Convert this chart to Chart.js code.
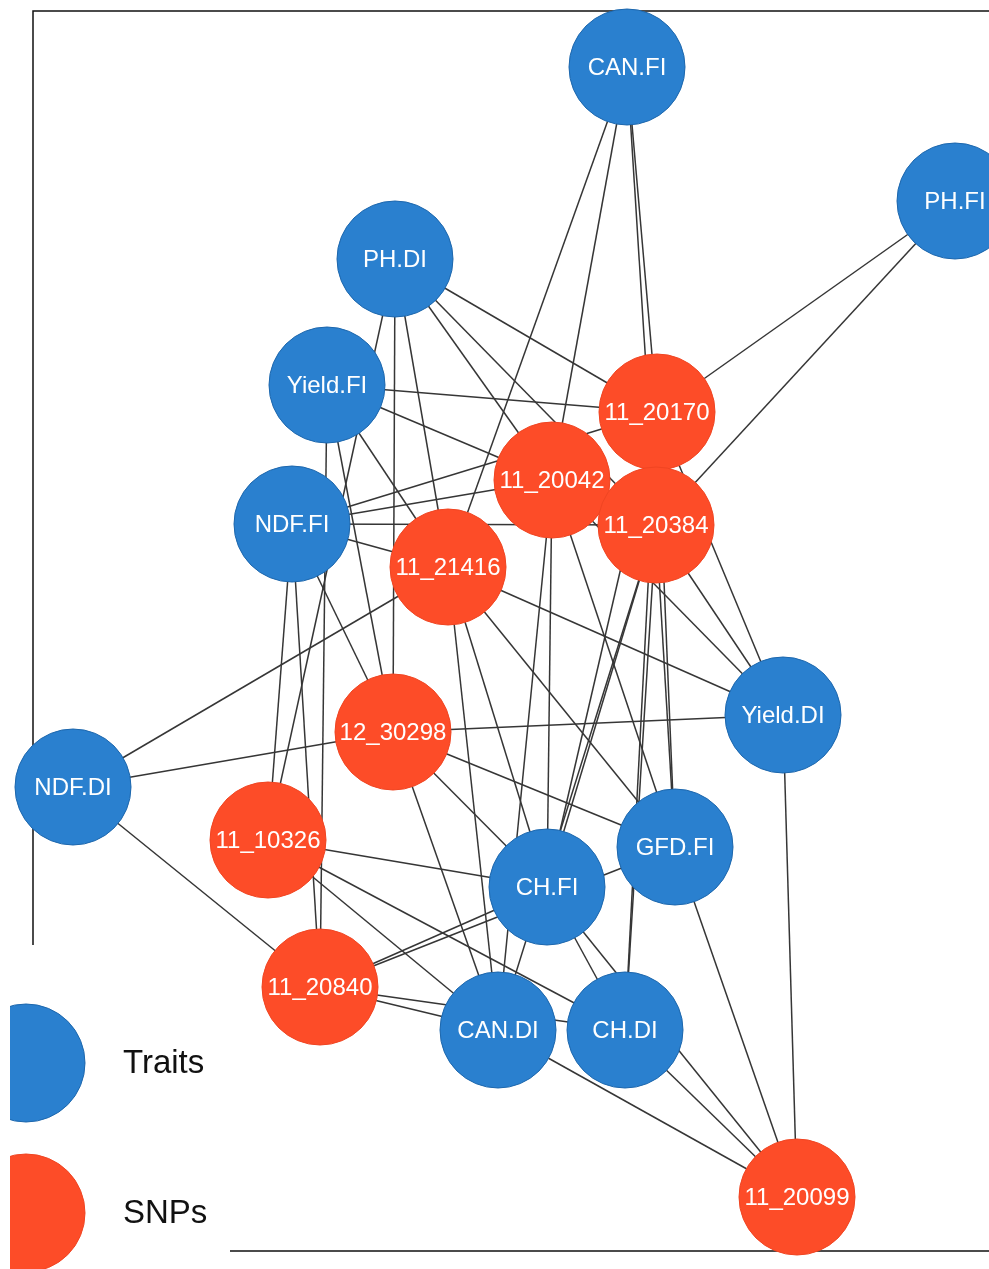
<!DOCTYPE html>
<html>
<head>
<meta charset="utf-8">
<script src="https://cdn.jsdelivr.net/npm/chart.js@4.4.1/dist/chart.umd.min.js"></script>
<style>
  html, body { margin: 0; padding: 0; background: #fff; }
  #wrap { width: 989px; height: 1269px; }
</style>
</head>
<body>
<div id="wrap"><canvas id="net"></canvas></div>
<script>
// nodes of the network (layout position)
const nodeNames = ['CAN.FI', 'PH.FI', 'PH.DI', 'Yield.FI', 'NDF.FI', 'NDF.DI', 'Yield.DI', 'GFD.FI', 'CH.FI', 'CAN.DI', 'CH.DI',
  '11_20170', '11_20042', '11_20384', '11_21416', '12_30298', '11_10326', '11_20840', '11_20099'];
const nodeX = [627, 955, 395, 327, 292, 73, 783, 675, 547, 498, 625, 657, 552, 656, 448, 393, 268, 320, 797];
const nodeY = [67, 201, 259, 385, 524, 787, 715, 847, 887, 1030, 1030, 412, 480, 525, 567, 732, 840, 987, 1197];
const nodeGroup = ['Traits', 'Traits', 'Traits', 'Traits', 'Traits', 'Traits', 'Traits', 'Traits', 'Traits', 'Traits', 'Traits',
  'SNPs', 'SNPs', 'SNPs', 'SNPs', 'SNPs', 'SNPs', 'SNPs', 'SNPs'];

// edges (source -> target)
const edgeSource = [
  'CAN.FI', 'CAN.FI', 'CAN.FI', 'CAN.FI',
  'PH.FI', 'PH.FI',
  'PH.DI', 'PH.DI', 'PH.DI', 'PH.DI', 'PH.DI', 'PH.DI',
  'Yield.FI', 'Yield.FI', 'Yield.FI', 'Yield.FI', 'Yield.FI',
  'NDF.FI', 'NDF.FI', 'NDF.FI', 'NDF.FI', 'NDF.FI', 'NDF.FI', 'NDF.FI',
  'NDF.DI', 'NDF.DI', 'NDF.DI',
  'Yield.DI', 'Yield.DI', 'Yield.DI', 'Yield.DI', 'Yield.DI', 'Yield.DI',
  'GFD.FI', 'GFD.FI', 'GFD.FI', 'GFD.FI', 'GFD.FI', 'GFD.FI', 'GFD.FI',
  'CH.FI', 'CH.FI', 'CH.FI', 'CH.FI', 'CH.FI', 'CH.FI', 'CH.FI', 'CH.FI', 'CH.FI',
  'CAN.DI', 'CAN.DI', 'CAN.DI', 'CAN.DI', 'CAN.DI', 'CAN.DI', 'CAN.DI',
  'CH.DI', 'CH.DI', 'CH.DI', 'CH.DI', 'CH.DI'];
const edgeTarget = [
  '11_20170', '11_20384', '11_20042', '11_21416',
  '11_20170', '11_20384',
  '11_20170', '11_20042', '11_20384', '11_10326', '12_30298', '11_21416',
  '11_20170', '11_20042', '11_21416', '12_30298', '11_20840',
  '11_20170', '11_20042', '11_20384', '11_21416', '12_30298', '11_10326', '11_20840',
  '11_21416', '12_30298', '11_20840',
  '11_20170', '11_20042', '11_20384', '11_21416', '12_30298', '11_20099',
  '11_20170', '11_20384', '11_20042', '11_21416', '12_30298', '11_20840', '11_20099',
  '11_20170', '11_20384', '11_20042', '11_21416', '12_30298', '11_10326', '11_20840', '11_20099', 'CH.DI',
  '11_20384', '11_20042', '11_21416', '12_30298', '11_10326', '11_20840', '11_20099',
  '11_20170', '11_20384', '11_10326', '11_20840', '11_20099'];

const legendLabels = ['Traits', 'SNPs'];

const groupFill = { Traits: '#2a80cf', SNPs: '#fd4c28' };
const groupEdge = { Traits: '#1d67ad', SNPs: '#f04522' };

const W = 989, H = 1269;

const idx = name => nodeNames.indexOf(name);

const edgeSets = edgeSource.map((s, i) => {
  const a = idx(s), b = idx(edgeTarget[i]);
  return {
    data: [{ x: nodeX[a], y: nodeY[a] }, { x: nodeX[b], y: nodeY[b] }],
    showLine: true,
    borderColor: '#363636',
    borderWidth: 1.5,
    pointRadius: 0,
    order: 2,
    clip: false
  };
});

const nodeSet = {
  data: nodeNames.map((n, i) => ({ x: nodeX[i], y: nodeY[i] })),
  pointRadius: 58,
  pointBackgroundColor: nodeGroup.map(g => groupFill[g]),
  pointBorderColor: nodeGroup.map(g => groupEdge[g]),
  pointBorderWidth: 1,
  showLine: false,
  order: 1,
  clip: false
};

const netPlugin = {
  id: 'netExtras',
  beforeDraw(chart) {
    const { ctx } = chart;
    ctx.save();
    ctx.fillStyle = '#fff';
    ctx.fillRect(0, 0, chart.width, chart.height);
    ctx.restore();
  },
  beforeDatasetsDraw(chart) {
    const { ctx, scales: { x, y } } = chart;
    ctx.save();
    ctx.strokeStyle = '#111';
    ctx.lineWidth = 1.5;
    ctx.beginPath();
    ctx.moveTo(x.getPixelForValue(33), y.getPixelForValue(945));
    ctx.lineTo(x.getPixelForValue(33), y.getPixelForValue(11));
    ctx.lineTo(x.getPixelForValue(W), y.getPixelForValue(11));
    ctx.moveTo(x.getPixelForValue(230), y.getPixelForValue(1251));
    ctx.lineTo(x.getPixelForValue(W), y.getPixelForValue(1251));
    ctx.stroke();
    ctx.restore();
  },
  afterDatasetsDraw(chart) {
    const { ctx, scales: { x, y } } = chart;
    ctx.save();
    ctx.fillStyle = '#fff';
    ctx.font = '24px "Liberation Sans", Arial, sans-serif';
    ctx.textAlign = 'center';
    ctx.textBaseline = 'middle';
    nodeNames.forEach((n, i) => {
      ctx.fillText(n, x.getPixelForValue(nodeX[i]), y.getPixelForValue(nodeY[i]) + 1);
    });

    // legend, bottom left
    const ly = [1063, 1213];
    ctx.beginPath();
    ctx.rect(10, 0, chart.width, chart.height);
    ctx.clip();
    legendLabels.forEach((g, i) => {
      ctx.beginPath();
      ctx.arc(x.getPixelForValue(26), y.getPixelForValue(ly[i]), 59, 0, Math.PI * 2);
      ctx.fillStyle = groupFill[g];
      ctx.fill();
      ctx.lineWidth = 1;
      ctx.strokeStyle = groupEdge[g];
      ctx.stroke();
      ctx.fillStyle = '#111';
      ctx.font = '33px "Liberation Sans", Arial, sans-serif';
      ctx.textAlign = 'left';
      ctx.fillText(g, x.getPixelForValue(123), y.getPixelForValue(ly[i]) + 1);
    });
    ctx.restore();
  }
};

new Chart(document.getElementById('net'), {
  type: 'scatter',
  data: { datasets: [nodeSet, ...edgeSets] },
  options: {
    responsive: true,
    maintainAspectRatio: false,
    animation: false,
    events: [],
    layout: { padding: 0, autoPadding: false },
    scales: {
      x: { type: 'linear', min: 0, max: W, display: false },
      y: { type: 'linear', min: 0, max: H, reverse: true, display: false }
    },
    plugins: {
      legend: { display: false },
      tooltip: { enabled: false }
    }
  },
  plugins: [netPlugin]
});
</script>
</body>
</html>
